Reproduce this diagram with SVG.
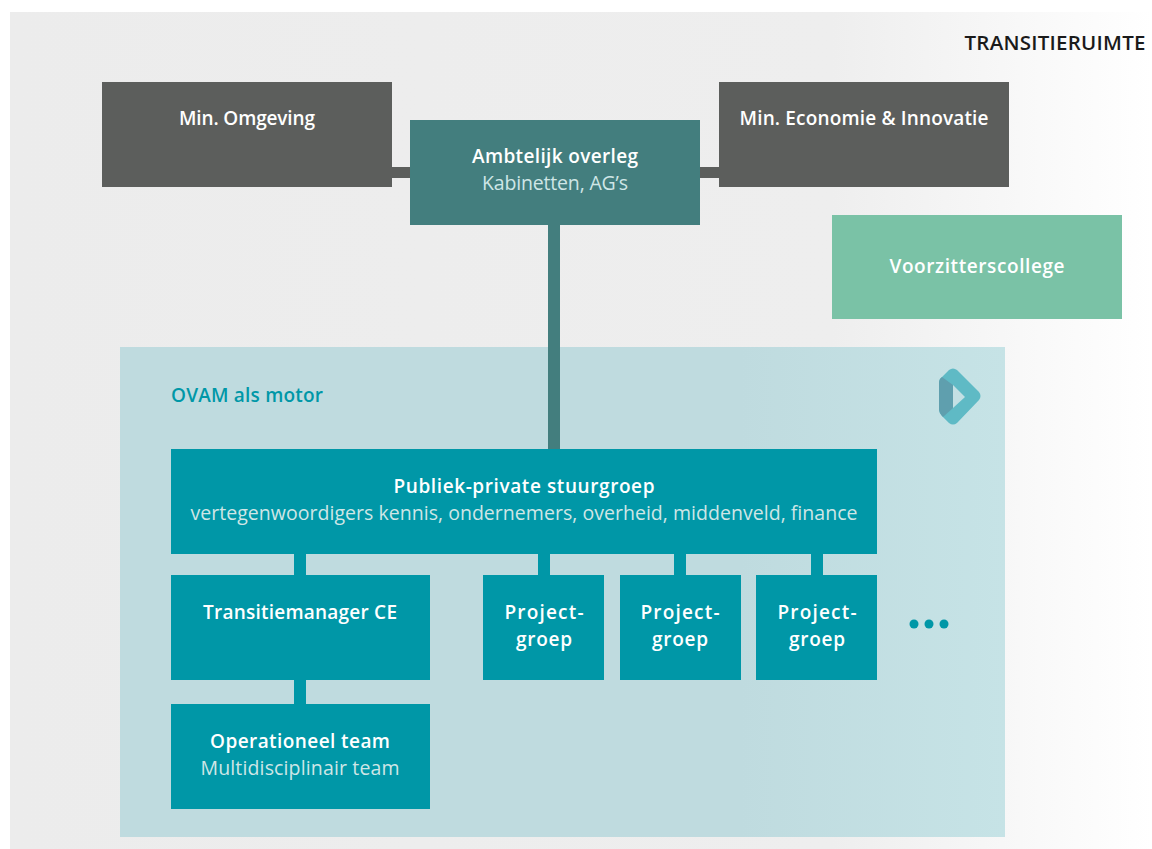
<svg xmlns="http://www.w3.org/2000/svg" width="1152" height="849" viewBox="0 0 1152 849">
<style>
text{font-family:"Open Sans","Noto Sans","Liberation Sans",sans-serif;text-anchor:middle;font-size:19px}
.b{font-weight:600;fill:#fff}
.l{fill:#cfe6e6;font-size:19.5px}
.dark{fill:#5c5e5c}.am{fill:#437e7e}.teal{fill:#0097a7}.mint{fill:#7ac2a6}
</style>
<defs>
<linearGradient id="bg" x1="0" x2="1" y1="0" y2="0"><stop offset="0" stop-color="#ececec"/><stop offset=".72" stop-color="#eeeeee"/><stop offset="1" stop-color="#ffffff"/></linearGradient>
<linearGradient id="motor" x1="0" x2="1" y1="0" y2="0"><stop offset="0" stop-color="#bfdbdf"/><stop offset=".7" stop-color="#bfdbdf"/><stop offset="1" stop-color="#c6e3e6"/></linearGradient>
</defs>
<rect width="1152" height="849" fill="#fff"/>
<rect id="transitieruimte-bg" x="10" y="12" width="1142" height="837" fill="url(#bg)"/>
<g id="motor-area">
<rect x="120" y="347" width="885" height="490" fill="url(#motor)"/>
<text x="247" y="402" textLength="152" style="fill:#0097a7;font-weight:600;font-size:19px">OVAM als motor</text>
<g id="logo">
<path d="M949 370 Q953 367 957 370 L979 392 Q982 396 979 400 L957 423 Q953 426 949 423 L942 416 Q939 413 939 409 L939 383 Q939 379 942 377Z" fill="#5fbac5"/>
<path d="M942 377 L953 385 L953 408 L943 417 Q939 413 939 409 L939 383 Q939 379 942 377Z" fill="#5f9fae"/>
<path d="M953 385 L965 397 L953 408Z" fill="#c3e0e4"/>
</g>
</g>
<g id="connectors" fill="#437e7e">
<rect x="392" y="167" width="18" height="11" class="dark"/>
<rect x="700" y="167" width="19" height="11" class="dark"/>
<rect x="548" y="225" width="12" height="224"/>
<rect x="294" y="554" width="12" height="21" class="teal"/>
<rect x="538" y="554" width="12" height="21" class="teal"/>
<rect x="674" y="554" width="12" height="21" class="teal"/>
<rect x="811" y="554" width="12" height="21" class="teal"/>
<rect x="294" y="680" width="12" height="24" class="teal"/>
</g>
<g id="min-omgeving"><rect x="102" y="82" width="290" height="105" class="dark"/><text x="247" y="125" class="b" textLength="136">Min. Omgeving</text></g>
<g id="min-economie"><rect x="719" y="82" width="290" height="105" class="dark"/><text x="864" y="125" class="b" textLength="249">Min. Economie &amp; Innovatie</text></g>
<g id="ambtelijk"><rect x="410" y="120" width="290" height="105" class="am"/><text x="555" y="163" class="b" textLength="166">Ambtelijk overleg</text><text x="555" y="190" class="l" textLength="146">Kabinetten, AG’s</text></g>
<g id="voorzitterscollege"><rect x="832" y="215" width="290" height="104" class="mint"/><text x="977" y="273" class="b" textLength="175">Voorzitterscollege</text></g>
<g id="stuurgroep"><rect x="171" y="449" width="706" height="105" class="teal"/><text x="524" y="493" class="b" textLength="261">Publiek-private stuurgroep</text><text x="524" y="520" class="l" textLength="667">vertegenwoordigers kennis, ondernemers, overheid, middenveld, finance</text></g>
<g id="transitiemanager"><rect x="171" y="575" width="259" height="105" class="teal"/><text x="300" y="619" class="b" textLength="194">Transitiemanager CE</text></g>
<g id="operationeel"><rect x="171" y="704" width="259" height="105" class="teal"/><text x="300" y="748" class="b" textLength="180">Operationeel team</text><text x="300" y="775" class="l" textLength="199">Multidisciplinair team</text></g>
<g id="projectgroep-1"><rect x="483" y="575" width="121" height="105" class="teal"/><text x="544" y="619" class="b" textLength="79">Project-</text><text x="544" y="646" class="b" textLength="56">groep</text></g>
<g id="projectgroep-2"><rect x="620" y="575" width="121" height="105" class="teal"/><text x="680" y="619" class="b" textLength="79">Project-</text><text x="680" y="646" class="b" textLength="56">groep</text></g>
<g id="projectgroep-3"><rect x="756" y="575" width="121" height="105" class="teal"/><text x="817" y="619" class="b" textLength="79">Project-</text><text x="817" y="646" class="b" textLength="56">groep</text></g>
<g id="more" fill="#0097a7"><circle cx="914" cy="624" r="4.5"/><circle cx="929" cy="624" r="4.5"/><circle cx="944" cy="624" r="4.5"/></g>
<text x="1055" y="50" textLength="181" style="fill:#1a1a1a;font-weight:600;font-size:20.5px">TRANSITIERUIMTE</text>
</svg>
